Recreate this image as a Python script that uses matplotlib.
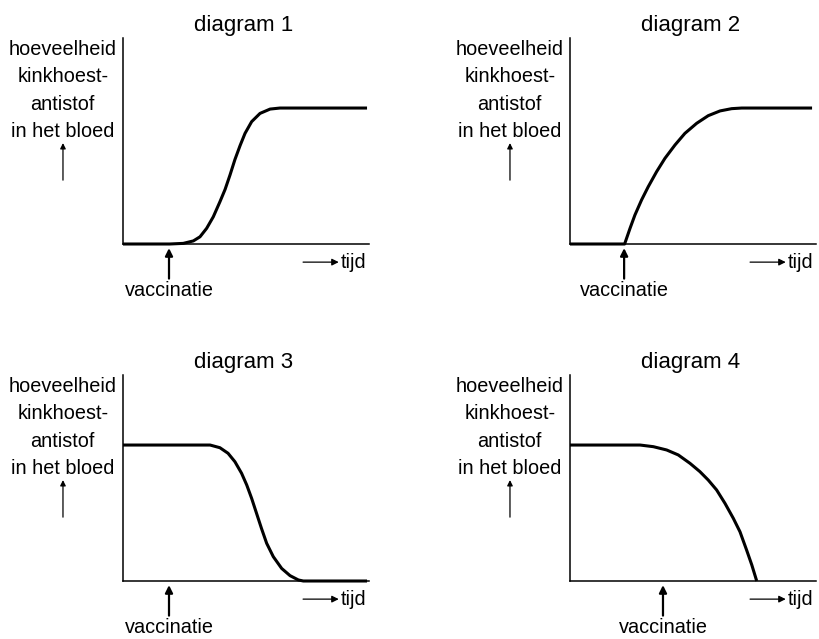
import matplotlib.pyplot as plt

plt.rcParams['font.family'] = ['Liberation Sans', 'DejaVu Sans']

titles = ['diagram 1', 'diagram 2', 'diagram 3', 'diagram 4']
y_text = 'hoeveelheid\nkinkhoest-\nantistof\nin het bloed'
x_text = 'tijd'
vacc_text = 'vaccinatie'

# time (0-10) and antibody level (0-1)
t1 = [0, 1.9, 2.45, 2.86, 3.13, 3.4, 3.67, 3.94, 4.15, 4.35, 4.55, 4.76, 4.96,
      5.23, 5.57, 5.98, 6.38, 9.92]
y1 = [0, 0, 0.003, 0.015, 0.035, 0.076, 0.132, 0.205, 0.265, 0.335, 0.41,
      0.478, 0.537, 0.594, 0.634, 0.655, 0.66, 0.66]

t2 = [0, 2.22, 2.44, 2.64, 2.91, 3.18, 3.52, 3.86, 4.27, 4.67, 5.15, 5.62,
      6.1, 6.57, 6.98, 9.84]
y2 = [0, 0, 0.076, 0.141, 0.214, 0.278, 0.351, 0.416, 0.481, 0.537, 0.586,
      0.623, 0.646, 0.657, 0.66, 0.66]

t3 = [0, 3.54, 3.94, 4.27, 4.55, 4.82, 5.03, 5.23, 5.43, 5.63, 5.84, 6.11,
      6.45, 6.79, 7.13, 7.33, 9.92]
y3 = [0.66, 0.66, 0.647, 0.62, 0.579, 0.523, 0.466, 0.401, 0.328, 0.255,
      0.183, 0.118, 0.061, 0.026, 0.005, 0, 0]

t4 = [0, 2.85, 3.39, 3.93, 4.4, 4.88, 5.28, 5.62, 5.96, 6.3, 6.64, 6.91,
      7.18, 7.39, 7.59]
y4 = [0.66, 0.66, 0.652, 0.636, 0.612, 0.571, 0.531, 0.49, 0.442, 0.377,
      0.304, 0.239, 0.15, 0.078, 0]

curves = [(t1, y1), (t2, y2), (t3, y3), (t4, y4)]
vacc_times = [1.87, 2.2, 1.87, 3.78]

fig = plt.figure(figsize=(8.19, 6.39), dpi=100)

W, H = 819, 639
lefts = [123, 570, 123, 570]
bottoms = [244, 244, 581, 581]

for i in range(4):
    ax = fig.add_axes([lefts[i] / W, 1 - bottoms[i] / H, 246 / W, 206 / H])
    t, y = curves[i]
    ax.plot(t, y, color='black', lw=2.2, clip_on=False, solid_capstyle='butt',
            solid_joinstyle='round')
    ax.set_xlim(0, 10)
    ax.set_ylim(0, 1)
    for s in ['top', 'right']:
        ax.spines[s].set_visible(False)
    for s in ['left', 'bottom']:
        ax.spines[s].set_linewidth(1.1)
    ax.set_xticks([])
    ax.set_yticks([])
    ax.patch.set_alpha(0)

    ax.text(0.49, 1.063, titles[i], transform=ax.transAxes, ha='center',
            va='center', fontsize=16)
    ax.text(-0.245, 0.745, y_text, transform=ax.transAxes, ha='center',
            va='center', fontsize=14.3, linespacing=1.57)
    # up arrow under the y text
    ax.annotate('', xy=(-0.244, 0.49), xytext=(-0.244, 0.31),
                xycoords='axes fraction', annotation_clip=False,
                arrowprops=dict(arrowstyle='-|>', lw=0.9, color='black',
                                mutation_scale=8, shrinkA=0, shrinkB=0))
    # time arrow
    ax.annotate('', xy=(0.877, -0.088), xytext=(0.732, -0.088),
                xycoords='axes fraction', annotation_clip=False,
                arrowprops=dict(arrowstyle='-|>', lw=0.9, color='black',
                                mutation_scale=10, shrinkA=0, shrinkB=0))
    ax.text(0.885, -0.088, x_text, transform=ax.transAxes, ha='left',
            va='center', fontsize=14.3)
    # vaccination arrow
    ax.annotate('', xy=(vacc_times[i], -0.02), xytext=(vacc_times[i], -0.168),
                xycoords=('data', 'axes fraction'), annotation_clip=False,
                arrowprops=dict(arrowstyle='-|>', lw=1.6, color='black',
                                mutation_scale=11, shrinkA=0, shrinkB=0))
    ax.text(vacc_times[i], -0.228, vacc_text,
            transform=ax.get_xaxis_transform(), ha='center', va='center',
            fontsize=14.3)

fig.savefig('out.png', dpi=100)
